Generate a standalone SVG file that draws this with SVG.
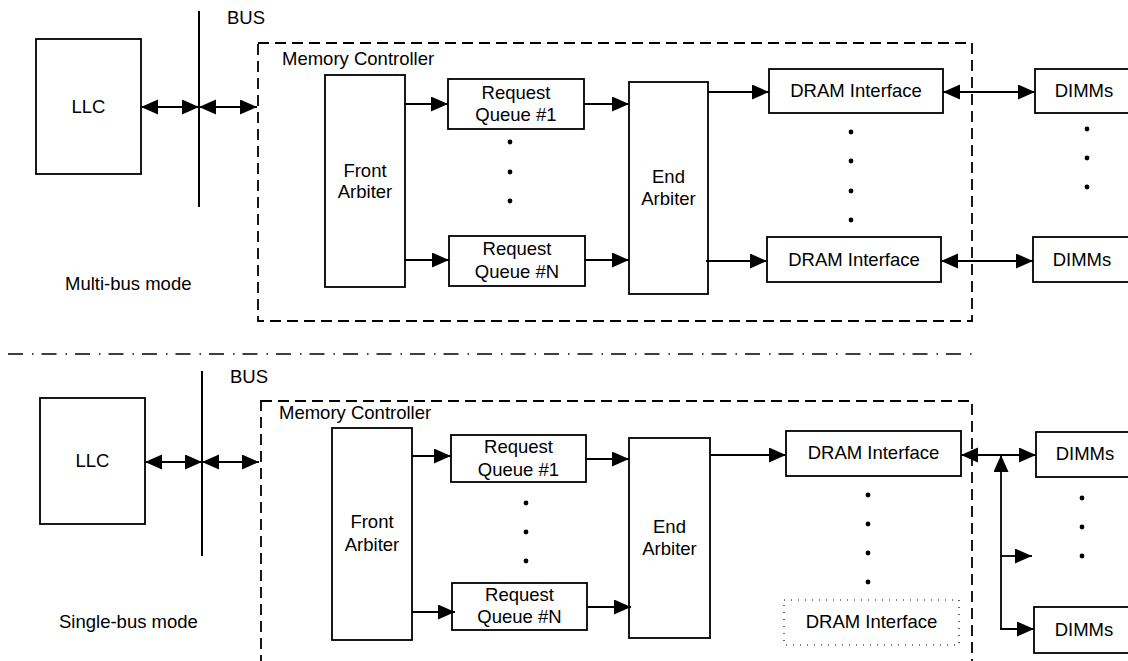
<svg xmlns="http://www.w3.org/2000/svg" width="1128" height="661" viewBox="0 0 1128 661">
  <style>
    .box { fill: #fff; stroke: #000; stroke-width: 1.8; }
    .mc { fill: none; stroke: #000; stroke-width: 1.8; stroke-dasharray: 11 6; }
    .dotted { fill: #fff; stroke: #000; stroke-width: 1.2; stroke-dasharray: 1 6; }
    .bus { stroke: #000; stroke-width: 2; }
    .sep { stroke: #000; stroke-width: 1.7; stroke-dasharray: 15 9 1.5 8; }
    .wire { fill: none; stroke: #000; stroke-width: 1.8; marker-end: url(#head); }
    .both { marker-start: url(#head); }
    text { font-family: "Liberation Sans", Arial, sans-serif; font-size: 18.5px; fill: #000; }
    .c { text-anchor: middle; }
    .dot { fill: #000; }
  </style>
  <defs>
    <marker id="head" markerUnits="userSpaceOnUse" markerWidth="18" markerHeight="16" refX="17" refY="7.5" orient="auto-start-reverse">
      <path d="M0,0 L17,7.5 L0,15 z" fill="#000"/>
    </marker>
  </defs>

  <rect width="1128" height="661" fill="#fff"/>

  <!-- ===== Multi-bus mode ===== -->
  <g id="multi-bus">
    <rect id="mc-top" class="mc" x="258" y="43" width="714" height="278"/>
    <text x="282" y="65">Memory Controller</text>
    <line id="bus-top" class="bus" x1="199" y1="11" x2="199" y2="207"/>
    <text id="bus-top-label" x="227" y="24">BUS</text>
    <text id="mode-multi" x="65" y="290">Multi-bus mode</text>

    <g id="llc-top">
      <rect class="box" x="36" y="39" width="105" height="135"/>
      <text class="c" x="88.5" y="113">LLC</text>
    </g>
    <g id="front-top">
      <rect class="box" x="325" y="75" width="80" height="212"/>
      <text class="c" x="365" y="177">Front</text>
      <text class="c" x="365" y="198">Arbiter</text>
    </g>
    <g id="rq1-top">
      <rect class="box" x="448" y="79" width="136" height="50"/>
      <text class="c" x="516" y="99">Request</text>
      <text class="c" x="516" y="121">Queue #1</text>
    </g>
    <g id="rqn-top">
      <rect class="box" x="449" y="236" width="136" height="50"/>
      <text class="c" x="517" y="255">Request</text>
      <text class="c" x="517" y="278">Queue #N</text>
    </g>
    <g id="end-top">
      <rect class="box" x="629" y="82" width="79" height="212"/>
      <text class="c" x="668.5" y="183">End</text>
      <text class="c" x="668.5" y="205">Arbiter</text>
    </g>
    <g id="dram1-top">
      <rect class="box" x="769" y="69" width="174" height="44"/>
      <text class="c" x="856" y="97">DRAM Interface</text>
    </g>
    <g id="dramn-top">
      <rect class="box" x="767" y="237" width="174" height="45"/>
      <text class="c" x="854" y="266">DRAM Interface</text>
    </g>
    <g id="dimm1-top">
      <rect class="box" x="1035" y="69" width="100" height="44"/>
      <text class="c" x="1084" y="97">DIMMs</text>
    </g>
    <g id="dimmn-top">
      <rect class="box" x="1033" y="237" width="102" height="45"/>
      <text class="c" x="1082" y="266">DIMMs</text>
    </g>
    <g id="dots-top">
      <circle class="dot" cx="510" cy="142" r="2.4"/>
      <circle class="dot" cx="510" cy="172" r="2.4"/>
      <circle class="dot" cx="510" cy="201" r="2.4"/>
      <circle class="dot" cx="851" cy="132" r="2.4"/>
      <circle class="dot" cx="851" cy="161" r="2.4"/>
      <circle class="dot" cx="851" cy="191" r="2.4"/>
      <circle class="dot" cx="851" cy="220" r="2.4"/>
      <circle class="dot" cx="1087" cy="129" r="2.4"/>
      <circle class="dot" cx="1087" cy="158" r="2.4"/>
      <circle class="dot" cx="1087" cy="187" r="2.4"/>
    </g>
  </g>

  <!-- mode separator -->
  <line id="separator" class="sep" x1="8" y1="354" x2="972" y2="354"/>

  <!-- ===== Single-bus mode ===== -->
  <g id="single-bus">
    <rect id="mc-bottom" class="mc" x="261" y="401" width="711" height="280"/>
    <text x="279" y="419">Memory Controller</text>
    <line id="bus-bottom" class="bus" x1="202" y1="371" x2="202" y2="556"/>
    <text id="bus-bottom-label" x="230" y="383">BUS</text>
    <text id="mode-single" x="59" y="628">Single-bus mode</text>

    <g id="llc-bottom">
      <rect class="box" x="40" y="398" width="105" height="126"/>
      <text class="c" x="92.5" y="467">LLC</text>
    </g>
    <g id="front-bottom">
      <rect class="box" x="332" y="428" width="80" height="212"/>
      <text class="c" x="372" y="528">Front</text>
      <text class="c" x="372" y="551">Arbiter</text>
    </g>
    <g id="rq1-bottom">
      <rect class="box" x="451" y="435" width="135" height="47"/>
      <text class="c" x="518.5" y="453">Request</text>
      <text class="c" x="518.5" y="476">Queue #1</text>
    </g>
    <g id="rqn-bottom">
      <rect class="box" x="452" y="583" width="135" height="47"/>
      <text class="c" x="519.5" y="601">Request</text>
      <text class="c" x="519.5" y="623">Queue #N</text>
    </g>
    <g id="end-bottom">
      <rect class="box" x="629" y="438" width="81" height="200"/>
      <text class="c" x="669.5" y="533">End</text>
      <text class="c" x="669.5" y="555">Arbiter</text>
    </g>
    <g id="dram1-bottom">
      <rect class="box" x="786" y="431" width="175" height="45"/>
      <text class="c" x="873.5" y="459">DRAM Interface</text>
    </g>
    <g id="dramn-bottom">
      <rect class="dotted" x="784" y="600" width="175" height="45"/>
      <text class="c" x="871.5" y="628">DRAM Interface</text>
    </g>
    <g id="dimm1-bottom">
      <rect class="box" x="1036" y="432" width="100" height="45"/>
      <text class="c" x="1085" y="460">DIMMs</text>
    </g>
    <g id="dimmn-bottom">
      <rect class="box" x="1034" y="607" width="102" height="46"/>
      <text class="c" x="1084" y="636">DIMMs</text>
    </g>
    <g id="dots-bottom">
      <circle class="dot" cx="526" cy="503" r="2.4"/>
      <circle class="dot" cx="526" cy="532" r="2.4"/>
      <circle class="dot" cx="526" cy="561" r="2.4"/>
      <circle class="dot" cx="868" cy="495" r="2.4"/>
      <circle class="dot" cx="868" cy="524" r="2.4"/>
      <circle class="dot" cx="868" cy="553" r="2.4"/>
      <circle class="dot" cx="868" cy="582" r="2.4"/>
      <circle class="dot" cx="1082" cy="498" r="2.4"/>
      <circle class="dot" cx="1082" cy="527" r="2.4"/>
      <circle class="dot" cx="1082" cy="556" r="2.4"/>
    </g>
  </g>

  <!-- ===== Connectors ===== -->
  <g id="connectors">
    <!-- multi-bus -->
    <line class="wire both" x1="141" y1="107" x2="199" y2="107"/>
    <line class="wire both" x1="199" y1="107" x2="257" y2="107"/>
    <line class="wire" x1="405" y1="104" x2="448" y2="104"/>
    <line class="wire" x1="405" y1="260" x2="449" y2="260"/>
    <line class="wire" x1="584" y1="104" x2="629" y2="104"/>
    <line class="wire" x1="585" y1="260" x2="629" y2="260"/>
    <line class="wire" x1="708" y1="92" x2="769" y2="92"/>
    <line class="wire" x1="706" y1="261" x2="767" y2="261"/>
    <line class="wire both" x1="943" y1="92" x2="1035" y2="92"/>
    <line class="wire both" x1="941" y1="261" x2="1033" y2="261"/>

    <!-- single-bus -->
    <line class="wire both" x1="145" y1="462" x2="202" y2="462"/>
    <line class="wire both" x1="202" y1="462" x2="259" y2="462"/>
    <line class="wire" x1="412" y1="456" x2="451" y2="456"/>
    <line class="wire" x1="412" y1="612" x2="455" y2="612"/>
    <line class="wire" x1="586" y1="459" x2="629" y2="459"/>
    <line class="wire" x1="587" y1="607" x2="631" y2="607"/>
    <line class="wire" x1="710" y1="455" x2="786" y2="455"/>
    <line class="wire both" x1="961" y1="455" x2="1036" y2="455"/>
    <line class="wire" x1="1001" y1="629" x2="1001" y2="455"/>
    <line class="wire" x1="1001" y1="556" x2="1032" y2="556"/>
    <line class="wire" x1="1000" y1="629" x2="1034" y2="629"/>
  </g>
</svg>
